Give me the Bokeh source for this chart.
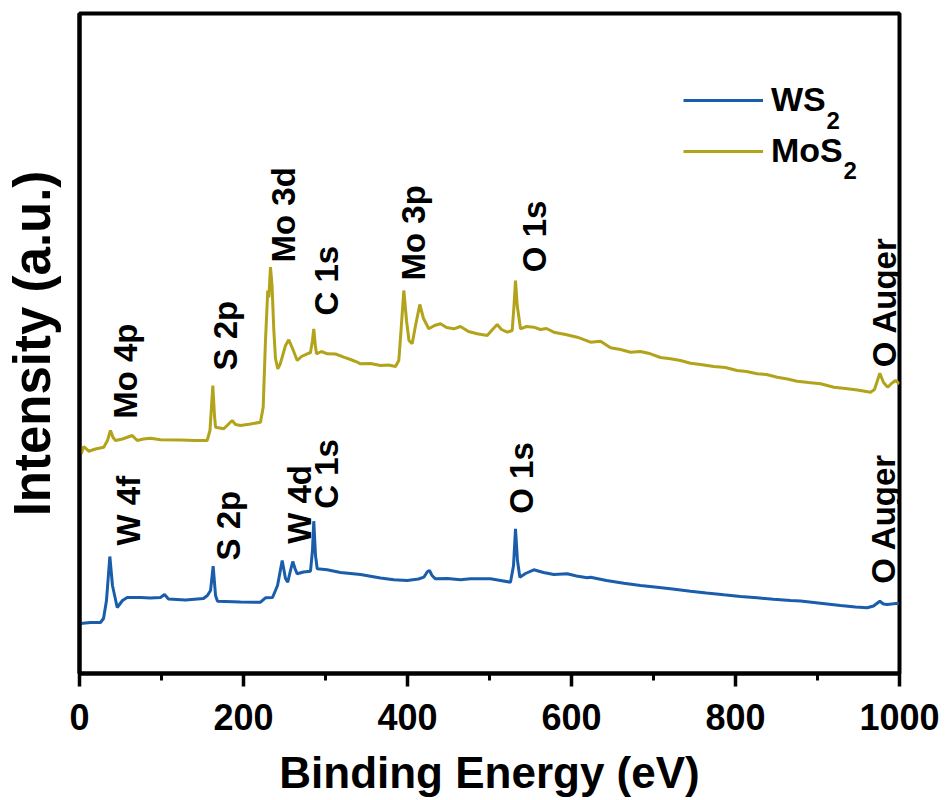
import math

from bokeh.core.properties import value
from bokeh.embed import file_html
from bokeh.models import (ColumnDataSource, FixedTicker, Label, Legend,
                          LegendItem, Range1d, SingleIntervalTicker)
from bokeh.plotting import figure
from bokeh.resources import INLINE

# ---- XPS survey spectra (binding energy in eV, intensity in a.u.) ----
ws2_energy = [1.2, 13.4, 25.6, 29.3, 32.9, 37.0, 40.2, 46.0, 52.4, 58.2,
              74.4, 86.6, 98.8, 103.7, 108.5, 129.3, 151.2, 156.0, 159.8, 163.0,
              165.9, 168.3, 196.3, 220.7, 226.8, 235.4, 241.5, 247.2, 251.2, 254.0,
              257.3, 260.1, 262.8, 265.5, 273.2, 281.7, 284.1, 285.7, 287.8, 289.9,
              302.0, 318.3, 342.7, 367.0, 383.3, 399.6, 413.4, 419.9, 424.4, 426.8,
              429.9, 434.1, 448.8, 464.6, 476.8, 501.2, 513.4, 525.6, 529.3, 531.7,
              534.1, 537.0, 543.9, 554.0, 565.9, 578.4, 594.8, 606.1, 619.1, 623.2,
              642.7, 663.8, 684.1, 704.5, 723.2, 745.1, 764.6, 785.7, 806.1, 826.5,
              846.3, 867.1, 879.3, 903.7, 928.0, 946.3, 960.6, 968.3, 976.0, 980.5,
              985.0, 992.7, 999.1]
ws2_intensity = [50.0, 51.0, 51.0, 55.0, 73.0, 117.0, 88.0, 66.0, 73.0, 76.0,
                 76.0, 75.5, 76.0, 79.0, 74.5, 73.5, 75.0, 78.0, 83.0, 107.3,
                 78.0, 72.3, 71.5, 71.3, 75.7, 76.0, 88.0, 113.0, 95.0, 91.3,
                 103.0, 112.0, 105.0, 99.7, 101.5, 102.3, 123.0, 152.3, 118.0, 104.7,
                 103.7, 101.0, 99.0, 95.5, 93.7, 93.0, 94.5, 96.3, 102.0, 103.0,
                 98.0, 94.7, 95.0, 93.7, 94.7, 94.7, 93.0, 91.3, 108.0, 144.7,
                 113.0, 96.3, 100.0, 103.7, 101.0, 99.0, 99.7, 97.5, 95.7, 96.3,
                 93.0, 90.3, 88.0, 86.3, 84.5, 82.3, 80.5, 78.7, 77.0, 75.7,
                 74.2, 73.0, 72.5, 70.3, 68.0, 66.5, 65.7, 67.5, 72.3, 69.5,
                 69.0, 69.7, 70.3]

mos2_energy = [2.1, 5.2, 11.3, 19.5, 29.6, 34.1, 37.8, 40.9, 43.9, 52.4,
               64.3, 70.4, 78.0, 86.6, 98.8, 123.2, 141.5, 155.7, 159.1, 162.6,
               164.6, 165.9, 176.0, 186.2, 190.2, 196.3, 208.5, 220.7, 224.0, 226.8,
               229.6, 230.9, 232.9, 234.8, 237.0, 239.0, 241.8, 244.5, 247.2, 251.2,
               255.2, 259.8, 265.5, 270.7, 277.7, 281.7, 284.1, 285.7, 287.6, 289.0,
               295.1, 302.1, 312.2, 322.3, 330.5, 338.7, 342.7, 354.9, 367.1, 376.8,
               385.4, 389.4, 392.1, 395.5, 398.8, 401.8, 405.7, 409.8, 415.0, 419.5,
               426.0, 433.0, 440.2, 447.6, 456.5, 464.6, 474.4, 485.0, 497.2, 503.7,
               509.4, 514.6, 521.6, 527.7, 529.9, 531.7, 533.8, 537.8, 545.1, 554.0,
               562.2, 569.5, 578.4, 592.7, 607.0, 623.2, 635.4, 647.6, 659.8, 672.0,
               684.1, 696.3, 708.5, 720.7, 732.9, 745.1, 757.3, 773.5, 787.8, 801.8,
               813.4, 826.5, 837.8, 850.9, 863.4, 875.2, 889.0, 903.7, 920.0, 934.1,
               948.8, 964.6, 969.5, 976.0, 980.5, 985.7, 990.2, 995.1, 1000.0]
mos2_intensity = [219.7, 227.0, 222.3, 224.5, 226.3, 233.0, 243.0, 236.0, 233.0, 234.5,
                  238.0, 233.0, 234.5, 235.3, 233.7, 233.5, 233.0, 233.0, 243.0, 288.0,
                  258.0, 246.3, 244.7, 253.0, 249.0, 248.0, 249.5, 251.3, 266.3, 333.0,
                  383.0, 376.0, 406.3, 388.0, 343.0, 315.0, 304.7, 309.0, 316.3, 328.0,
                  333.7, 325.0, 313.0, 317.0, 319.7, 321.0, 333.0, 344.7, 328.0, 319.7,
                  322.0, 319.7, 319.5, 316.3, 314.0, 311.3, 309.7, 310.0, 308.0, 308.5,
                  307.0, 313.0, 343.0, 383.0, 353.0, 333.0, 329.7, 348.0, 369.0, 355.0,
                  344.7, 348.0, 349.7, 346.0, 344.7, 347.0, 342.0, 339.7, 338.0, 344.0,
                  349.0, 344.0, 341.3, 343.0, 368.0, 393.0, 368.0, 344.7, 347.0, 346.3,
                  344.0, 345.0, 341.3, 339.0, 336.3, 331.3, 332.3, 325.7, 324.0, 321.3,
                  322.0, 319.7, 316.0, 314.7, 313.0, 310.3, 309.0, 307.0, 306.0, 303.0,
                  302.0, 299.7, 299.0, 296.3, 294.5, 292.3, 291.0, 289.7, 286.3, 285.0,
                  283.5, 281.3, 284.0, 300.3, 291.0, 286.3, 290.0, 293.0, 289.7]

# ---- peak assignments: text, label energy (eV), label start intensity (a.u.) ----
mos2_peak_text = ["Mo 4p", "S 2p", "Mo 3d", "C 1s", "Mo 3p", "O 1s", "O Auger"]
mos2_peak_energy = [56.1, 178.0, 248.8, 301.0, 407.0, 555.0, 981.7]
mos2_peak_level = [254.7, 303.0, 411.0, 358.0, 393.0, 401.3, 306.3]

ws2_peak_text = ["W 4f", "S 2p", "W 4d", "C 1s", "O 1s", "O Auger"]
ws2_peak_energy = [59.8, 182.0, 268.0, 301.0, 539.0, 980.5]
ws2_peak_level = [128.0, 113.0, 129.7, 164.7, 159.7, 89.7]

WS2_COLOR = "#1A5DAB"
MOS2_COLOR = "#B2A31A"
FONT = "Liberation Sans"

p = figure(width=946, height=800, output_backend="svg", toolbar_location=None,
           x_range=Range1d(0, 1000), y_range=Range1d(0, 660),
           min_border_left=79, min_border_right=47,
           min_border_top=13, min_border_bottom=127)
p.background_fill_color = "white"
p.border_fill_color = "white"
p.grid.visible = False
p.outline_line_color = "black"
p.outline_line_width = 4

ws2_line = p.line(ws2_energy, ws2_intensity, line_color=WS2_COLOR, line_width=3)
mos2_line = p.line(mos2_energy, mos2_intensity, line_color=MOS2_COLOR, line_width=3)

# rotated peak labels
for texts, xs, ys in ((mos2_peak_text, mos2_peak_energy, mos2_peak_level),
                      (ws2_peak_text, ws2_peak_energy, ws2_peak_level)):
    src = ColumnDataSource(dict(x=xs, y=ys, t=texts))
    p.text(x="x", y="y", text="t", source=src, angle=math.pi / 2,
           text_font=value(FONT), text_font_style="bold", text_font_size="33px",
           text_color="black", text_align="left", text_baseline="alphabetic")

# x axis
xa = p.xaxis[0]
xa.ticker = SingleIntervalTicker(interval=200, num_minor_ticks=2)
xa.major_label_text_font = FONT
xa.major_label_text_font_style = "bold"
xa.major_label_text_font_size = "36px"
xa.major_label_text_color = "black"
xa.major_label_standoff = 17
xa.axis_label = "Binding Energy (eV)"
xa.axis_label_text_font = FONT
xa.axis_label_text_font_style = "bold"
xa.axis_label_text_font_size = "44px"
xa.axis_label_text_color = "black"
xa.axis_label_standoff = 15
xa.axis_line_width = 4
xa.axis_line_color = "black"
xa.major_tick_in = 0
xa.major_tick_out = 13
xa.major_tick_line_width = 3.5
xa.major_tick_line_color = "black"
xa.minor_tick_in = 0
xa.minor_tick_out = 7
xa.minor_tick_line_width = 3
xa.minor_tick_line_color = "black"

# y axis: line and title only
ya = p.yaxis[0]
ya.ticker = FixedTicker(ticks=[])
ya.axis_label = "Intensity (a.u.)"
ya.axis_label_text_font = FONT
ya.axis_label_text_font_style = "bold"
ya.axis_label_text_font_size = "51px"
ya.axis_label_text_color = "black"
ya.axis_label_standoff = 19
ya.axis_line_width = 4
ya.axis_line_color = "black"
ya.major_tick_line_color = None
ya.minor_tick_line_color = None

# legend
legend = Legend(items=[LegendItem(label="WS", renderers=[ws2_line]),
                       LegendItem(label="MoS", renderers=[mos2_line])],
                location=(604, 503), orientation="vertical",
                glyph_width=80, glyph_height=30, label_height=30,
                label_standoff=8, spacing=12, padding=0, margin=0,
                border_line_alpha=0, background_fill_alpha=0,
                label_text_font=FONT, label_text_font_style="bold",
                label_text_font_size="34px", label_text_color="black")
p.add_layout(legend)

# subscripts of the legend formulas
for sx, sy in ((747, 553), (764, 503)):
    p.add_layout(Label(x=sx, y=sy, x_units="screen", y_units="screen", text="2",
                       text_font=FONT, text_font_style="bold", text_font_size="24px",
                       text_color="black", text_baseline="alphabetic",
                       text_align="left"))

open("out.html", "w").write(file_html(p, INLINE))
